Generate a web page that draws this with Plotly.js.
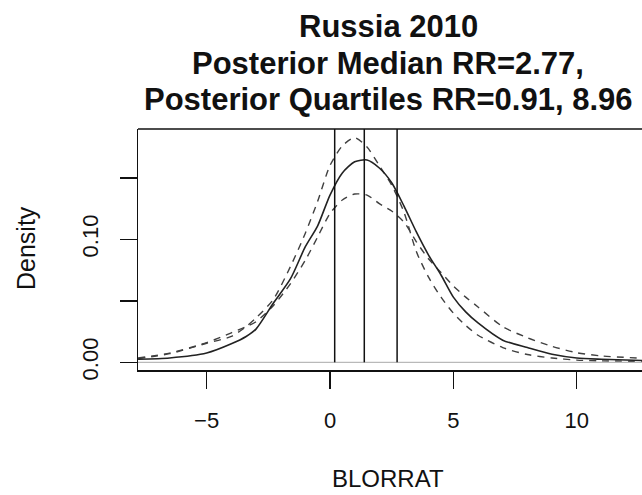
<!DOCTYPE html>
<html>
<head>
<meta charset="utf-8">
<script src="https://cdn.plot.ly/plotly-3.0.1.min.js"></script>
<style>
  html, body { margin: 0; padding: 0; background: #ffffff; }
  #chart { width: 642px; height: 495px; }
</style>
</head>
<body>
<div id="chart"></div>
<script>
// Posterior density of BLORRAT with two bracketing density curves
const xGrid = [-7.78, -6.5, -5, -4, -3.4, -3, -2.3, -1.6, -1, -0.5, 0, 0.5, 1, 1.5, 2, 2.5,
               3, 3.5, 4, 4.5, 5, 5.5, 6, 7, 8, 9, 10, 11, 12.65];

const posteriorDensity = [0.0025, 0.0035, 0.0075, 0.015, 0.021, 0.027, 0.048, 0.068, 0.094, 0.111, 0.136,
                          0.154, 0.163, 0.1645, 0.158, 0.146, 0.127, 0.106, 0.087, 0.071, 0.053,
                          0.041, 0.032, 0.018, 0.012, 0.0065, 0.0035, 0.0025, 0.0015];

const narrowDensity = [0.003, 0.007, 0.0155, 0.021, 0.029, 0.036, 0.051, 0.078, 0.105, 0.131, 0.160,
                       0.176, 0.1826, 0.175, 0.160, 0.144, 0.122, 0.090, 0.069, 0.053, 0.040,
                       0.030, 0.022, 0.012, 0.0063, 0.0035, 0.0018, 0.0012, 0.0008];

const wideDensity = [0.0035, 0.0075, 0.016, 0.024, 0.029, 0.033, 0.046, 0.064, 0.083, 0.102, 0.121,
                     0.132, 0.1368, 0.136, 0.129, 0.123, 0.114, 0.098, 0.084, 0.073, 0.062,
                     0.053, 0.045, 0.029, 0.020, 0.013, 0.0078, 0.0052, 0.0033];

// Quartile / median markers on the BLORRAT scale
const markerX = [0.19, 1.39, 2.72];

const xTickVals = [-5, 0, 5, 10];
const xTickText = ['\u22125', '0', '5', '10'];
const yTickVals = [0, 0.05, 0.10, 0.15];
const yTickText = ['0.00', '', '0.10', ''];

const titleLines = ['Russia 2010', 'Posterior Median RR=2.77,', 'Posterior Quartiles RR=0.91, 8.96'];

// Geometry
const W = 642, H = 495;
const M = { l: 138, r: 0, t: 129, b: 125 };
const plotW = W - M.l - M.r, plotH = H - M.t - M.b;
const xRange = [-7.783, 12.647];
const yRange = [-0.00626, 0.1897];
const FONT = 'Liberation Sans, Arial, Helvetica, sans-serif';
const ink = '#111111';

const pxX = px => (px - M.l) / plotW;
const pxY = py => (H - M.b - py) / plotH;

const traces = [
  { x: xGrid, y: narrowDensity, mode: 'lines', line: { color: '#404040', width: 1.4, dash: '7px,6px', shape: 'spline', smoothing: 0.7 }, hoverinfo: 'skip' },
  { x: xGrid, y: wideDensity, mode: 'lines', line: { color: '#404040', width: 1.4, dash: '7px,6px', shape: 'spline', smoothing: 0.7 }, hoverinfo: 'skip' },
  { x: xGrid, y: posteriorDensity, mode: 'lines', line: { color: '#222222', width: 1.6, shape: 'spline', smoothing: 0.7 }, hoverinfo: 'skip' }
];

const shapes = [
  // baseline at zero density
  { type: 'line', xref: 'paper', yref: 'y', x0: 0, x1: 1, y0: 0, y1: 0, line: { color: '#a8a8a8', width: 1 } },
  // top border of the box
  { type: 'line', xref: 'paper', yref: 'paper', x0: 0, x1: 1, y0: 1, y1: 1, line: { color: '#111111', width: 1.5 } }
].concat(markerX.map(v => ({
  type: 'line', xref: 'x', yref: 'y', x0: v, x1: v, y0: 0, y1: yRange[1],
  line: { color: '#111111', width: 1.5 }
})));

const titleCenterPx = 388;
const titleYs = [27, 63, 99];
const annotations = titleLines.map((t, i) => ({
  text: '<b>' + t + '</b>', xref: 'paper', yref: 'paper',
  x: pxX(titleCenterPx), y: pxY(titleYs[i]), xanchor: 'center', yanchor: 'middle',
  showarrow: false, font: { family: FONT, size: 31, color: ink }
}));
annotations.push({
  text: 'BLORRAT', xref: 'paper', yref: 'paper', x: pxX(388), y: pxY(494),
  xanchor: 'center', yanchor: 'bottom', showarrow: false,
  font: { family: FONT, size: 24, color: ink }
});
annotations.push({
  text: 'Density', xref: 'paper', yref: 'paper', x: pxX(26), y: pxY(248),
  xanchor: 'center', yanchor: 'middle', textangle: -90, showarrow: false,
  font: { family: FONT, size: 25, color: ink }
});

const layout = {
  width: W, height: H,
  margin: M,
  paper_bgcolor: '#ffffff', plot_bgcolor: '#ffffff',
  showlegend: false,
  xaxis: {
    range: xRange, showgrid: false, zeroline: false,
    showline: true, linecolor: '#111111', linewidth: 1.5,
    ticks: 'outside', ticklen: 17, tickwidth: 1.5, tickcolor: '#111111',
    tickmode: 'array', tickvals: xTickVals, ticktext: xTickText,
    tickfont: { family: FONT, size: 22, color: ink }, ticklabelstandoff: 13
  },
  yaxis: {
    range: yRange, showgrid: false, zeroline: false,
    showline: true, linecolor: '#111111', linewidth: 1.5,
    ticks: 'outside', ticklen: 17, tickwidth: 1.5, tickcolor: '#111111',
    tickmode: 'array', tickvals: yTickVals, ticktext: yTickText, tickangle: -90,
    tickfont: { family: FONT, size: 22, color: ink }, ticklabelstandoff: 13
  },
  shapes: shapes,
  annotations: annotations
};

Plotly.newPlot('chart', traces, layout, { staticPlot: true, displayModeBar: false });
</script>
</body>
</html>
